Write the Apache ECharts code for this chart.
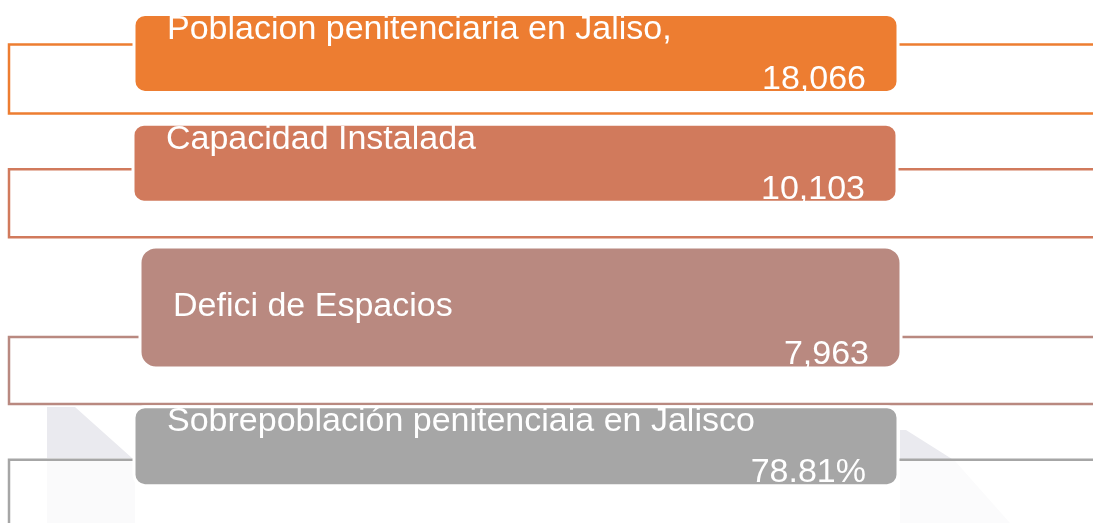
<!DOCTYPE html>
<html lang="es">
<head>
    <meta charset="utf-8">
    <title>Poblacion penitenciaria Jalisco</title>
    <script src="https://cdn.jsdelivr.net/npm/echarts@6/dist/echarts.min.js"></script>
    <style>
        html, body { margin: 0; padding: 0; background: #fff; }
        #grafica { width: 1093px; height: 523px; }
    </style>
</head>
<body>
    <div id="grafica"></div>
    <script>
        // datos
        var categorias = ['Poblacion penitenciaria en Jaliso,', 'Capacidad Instalada', 'Defici de Espacios', 'Sobrepoblación penitenciaia en Jalisco'];
        var valores = [18066, 10103, 7963, 78.81];
        var unidades = ['', '', '', '%'];

        // estilo de cada caja (desplazamiento respecto al centro de la banda)
        var colores = ['#ED7D31', '#D17A5C', '#B98980', '#A6A6A6'];
        var cajas = [
            {dy: -51, h: 78, izq: 134, der: 898, r: 11, lineaDy: 30, lineaH: 69, etq: 15},
            {dy: -72, h: 78, izq: 133, der: 897, r: 11, lineaDy: 45, lineaH: 68, etq: 15},
            {dy: -80, h: 121, izq: 140, der: 901, r: 16, lineaDy: 90, lineaH: 67, etq: 60},
            {dy: -51, h: 79, izq: 134, der: 898, r: 11, lineaDy: 53, lineaH: 120, etq: 15}
        ];
        var fuente = '34px "Liberation Sans", Arial, sans-serif';

        function formato(v, i) {
            if (unidades[i] === '%') return v.toFixed(2) + '%';
            return v.toLocaleString('en-US');
        }

        function renderCaja(params, api) {
            var i = params.dataIndex;
            var cs = params.coordSys;
            var c = api.coord([0, api.value(1)])[1];
            var k = cajas[i];
            var top = c + k.dy;
            return {
                type: 'group',
                children: [
                    {
                        type: 'rect',
                        shape: {x: 9, y: top + k.lineaDy, width: cs.width + 20, height: k.lineaH},
                        style: {fill: 'none', stroke: colores[i], lineWidth: 2.5}
                    },
                    {
                        type: 'rect',
                        shape: {x: k.izq, y: top, width: k.der - k.izq, height: k.h, r: k.r},
                        style: {fill: colores[i], stroke: '#fff', lineWidth: 3}
                    },
                    {
                        type: 'text',
                        style: {
                            text: categorias[i], x: k.izq + 33, y: top + k.etq,
                            fill: '#fff', font: fuente, align: 'left', verticalAlign: 'middle',
                            textAlign: 'left', textVerticalAlign: 'middle'
                        }
                    },
                    {
                        type: 'text',
                        style: {
                            text: formato(api.value(2), i), x: k.der - 32, y: top + k.h - 13,
                            fill: '#fff', font: fuente, align: 'right', verticalAlign: 'middle',
                            textAlign: 'right', textVerticalAlign: 'middle'
                        }
                    }
                ]
            };
        }

        var grafica = echarts.init(document.getElementById('grafica'));
        grafica.setOption({
            animation: false,
            // sombra clara del fondo
            graphic: [
                {type: 'polygon', z: -1, shape: {points: [[47, 407], [75, 407], [132, 458], [47, 458]]}, style: {fill: '#EAEAEF'}},
                {type: 'rect', z: -1, shape: {x: 47, y: 460, width: 88, height: 63}, style: {fill: '#FAFAFB'}},
                {type: 'polygon', z: -1, shape: {points: [[900, 430], [906, 430], [952, 459], [900, 459]]}, style: {fill: '#EAEAEF'}},
                {type: 'polygon', z: -1, shape: {points: [[900, 461], [955, 461], [1010, 523], [900, 523]]}, style: {fill: '#FBFBFC'}}
            ],
            grid: {left: 0, right: 0, top: 0, bottom: 0},
            xAxis: {type: 'value', min: 0, max: 1, show: false},
            yAxis: {type: 'category', data: categorias, inverse: true, show: false},
            series: [{
                type: 'custom',
                renderItem: renderCaja,
                clip: false,
                data: categorias.map(function (c, i) { return [0, i, valores[i]]; })
            }]
        });
    </script>
</body>
</html>
